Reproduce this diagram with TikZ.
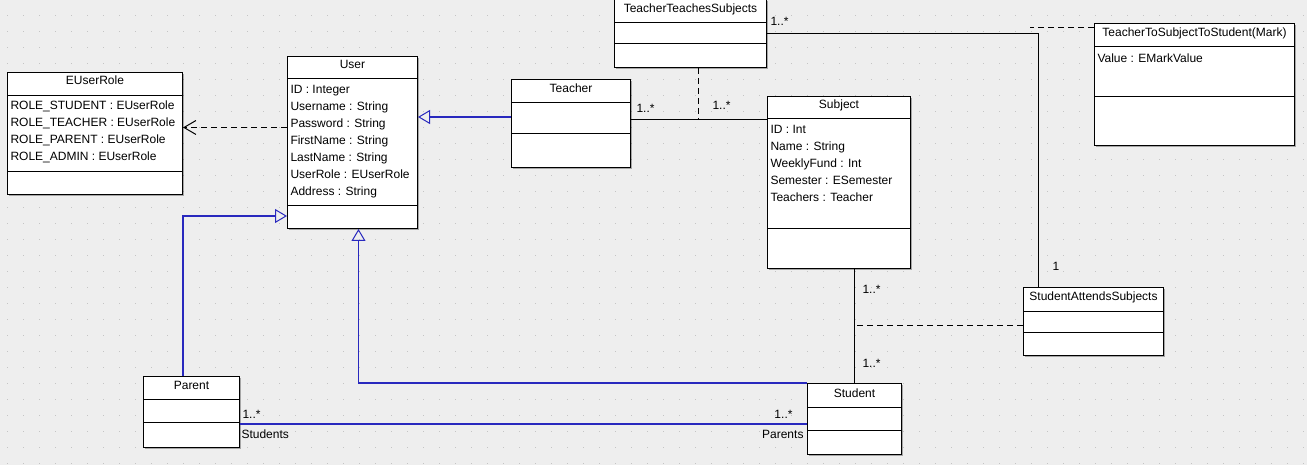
\documentclass[tikz,border=0pt]{standalone}
\usepackage{fontspec}
\setmainfont{Liberation Sans}
\usetikzlibrary{arrows.meta,shadows}

\definecolor{canvasgray}{RGB}{238,238,238}
\definecolor{dotgray}{RGB}{196,196,196}
\definecolor{genblue}{RGB}{40,40,190}

\begin{document}
\begin{tikzpicture}
    [x=1pt,y=-1pt,line width=1pt,
    font=\fontsize{12}{14}\selectfont,
    classbox/.style={draw=black,fill=white,anchor=north west,inner sep=0pt,
        drop shadow={shadow xshift=1.2pt,shadow yshift=-1.2pt,fill=black,opacity=0.3}},
    classname/.style={anchor=base,inner sep=0pt},
    member/.style={anchor=base west,inner sep=0pt},
    mult/.style={inner sep=0pt},
    assoc/.style={black},
    assocblue/.style={genblue,line width=1.1pt},
    inherit/.style={genblue,line width=1.1pt,-{Triangle[open,length=12pt,width=14pt,line width=1pt]}},
    depend/.style={black,dash pattern=on 6pt off 4pt,-{Straight Barb[length=12pt,width=14pt]}},
    assocclass/.style={black,dash pattern=on 6pt off 4pt}]

%background with dot grid
\fill[canvasgray] (0,0) rectangle (1307,465);
\foreach \i in {0,...,81}
    \foreach \j in {0,...,28}
        \fill[dotgray] (16*\i+7,16*\j+15) rectangle ++(1.3,1.3);
\useasboundingbox (0,0) rectangle (1307,465);

%EUserRole
\node[classbox,minimum width=175,minimum height=122] (euserrole) at (7,72) {};
\draw ([yshift=-24pt]euserrole.north west) -- ([yshift=-24pt]euserrole.north east);
\draw ([yshift=-100pt]euserrole.north west) -- ([yshift=-100pt]euserrole.north east);
\node[classname] (euserrolename) at ([yshift=-13pt]euserrole.north) {EUserRole};
\foreach \m [count=\k] in {ROLE\_STUDENT : EUserRole,ROLE\_TEACHER : EUserRole,
        ROLE\_PARENT : EUserRole,ROLE\_ADMIN : EUserRole}
    \node[member] (euserrole-\k) at (10,93+17*\k) {\m};

%User
\node[classbox,minimum width=130,minimum height=172] (user) at (287,56) {};
\draw ([yshift=-23pt]user.north west) -- ([yshift=-23pt]user.north east);
\draw ([yshift=-150pt]user.north west) -- ([yshift=-150pt]user.north east);
\node[classname] (username) at ([yshift=-13pt]user.north) {User};
\foreach \m [count=\k] in {ID : Integer,Username : String,Password : String,
        FirstName : String,LastName : String,UserRole : EUserRole,Address : String}
    \node[member] (user-\k) at (290,77+17*\k) {\m};

%Teacher
\node[classbox,minimum width=119,minimum height=88] (teacher) at (511,79) {};
\draw ([yshift=-24pt]teacher.north west) -- ([yshift=-24pt]teacher.north east);
\draw ([yshift=-55pt]teacher.north west) -- ([yshift=-55pt]teacher.north east);
\node[classname] (teachername) at ([yshift=-14pt]teacher.north) {Teacher};

%TeacherTeachesSubjects
\node[classbox,minimum width=152,minimum height=68] (tts) at (614,-1) {};
\draw ([yshift=-24pt]tts.north west) -- ([yshift=-24pt]tts.north east);
\draw ([yshift=-45pt]tts.north west) -- ([yshift=-45pt]tts.north east);
\node[classname] (ttsname) at ([yshift=-14pt]tts.north) {TeacherTeachesSubjects};

%Subject
\node[classbox,minimum width=143,minimum height=172] (subject) at (767,96) {};
\draw ([yshift=-23pt]subject.north west) -- ([yshift=-23pt]subject.north east);
\draw ([yshift=-133pt]subject.north west) -- ([yshift=-133pt]subject.north east);
\node[classname] (subjectname) at ([yshift=-13pt]subject.north) {Subject};
\foreach \m [count=\k] in {ID : Int,Name : String,WeeklyFund : Int,
        Semester : ESemester,Teachers : Teacher}
    \node[member] (subject-\k) at (770,117+17*\k) {\m};

%TeacherToSubjectToStudent(Mark)
\node[classbox,minimum width=200,minimum height=122] (mark) at (1094,23) {};
\draw ([yshift=-24pt]mark.north west) -- ([yshift=-24pt]mark.north east);
\draw ([yshift=-74pt]mark.north west) -- ([yshift=-74pt]mark.north east);
\node[classname] (markname) at ([yshift=-14pt]mark.north) {TeacherToSubjectToStudent(Mark)};
\node[member] (mark-1) at (1097,63) {Value : EMarkValue};

%StudentAttendsSubjects
\node[classbox,minimum width=140,minimum height=68] (sas) at (1023,287) {};
\draw ([yshift=-24pt]sas.north west) -- ([yshift=-24pt]sas.north east);
\draw ([yshift=-45pt]sas.north west) -- ([yshift=-45pt]sas.north east);
\node[classname] (sasname) at ([yshift=-14pt]sas.north) {StudentAttendsSubjects};

%Parent
\node[classbox,minimum width=96,minimum height=71] (parent) at (143,376) {};
\draw ([yshift=-23pt]parent.north west) -- ([yshift=-23pt]parent.north east);
\draw ([yshift=-46pt]parent.north west) -- ([yshift=-46pt]parent.north east);
\node[classname] (parentname) at ([yshift=-13pt]parent.north) {Parent};

%Student
\node[classbox,minimum width=94,minimum height=71] (student) at (807,383) {};
\draw ([yshift=-24pt]student.north west) -- ([yshift=-24pt]student.north east);
\draw ([yshift=-47pt]student.north west) -- ([yshift=-47pt]student.north east);
\node[classname] (studentname) at ([yshift=-14pt]student.north) {Student};

%User depends on EUserRole
\coordinate (userdep) at ([yshift=15pt]user.west);
\draw[depend] (userdep) -- (userdep -| euserrole.east);

%generalizations
\coordinate (teachergen) at ([yshift=6.5pt]teacher.west);
\draw[inherit] (teachergen) -- (teachergen -| user.east);
\coordinate (parentgen) at ([xshift=-8.5pt]parent.north);
\coordinate (usergenleft) at ([yshift=13pt]user.south west);
\draw[inherit] (parentgen) |- (usergenleft);
\coordinate (usergenbottom) at ([xshift=6pt]user.south);
\draw[inherit] (student.north west) -| (usergenbottom);

%Parent - Student
\coordinate (parentassoc) at ([yshift=-12pt]parent.east);
\draw[assocblue] (parentassoc) -- (parentassoc -| student.west);
\node[mult,anchor=base west] (parentmult) at (242,418) {1..*};
\node[mult,anchor=base west] (parentrole) at (241,438) {Students};
\node[mult,anchor=base east] (studentmult) at (793,418) {1..*};
\node[mult,anchor=base east] (studentrole) at (804,438) {Parents};

%Teacher - Subject
\coordinate (teacherassoc) at ([yshift=4pt]teacher.east);
\draw[assoc] (teacherassoc) -- (teacherassoc -| subject.west);
\coordinate (ttsjoin) at ([xshift=8pt]tts.south);
\draw[assocclass] (ttsjoin) -- (ttsjoin |- teacherassoc);
\node[mult,anchor=base west] (teachermult) at (636,113) {1..*};
\node[mult,anchor=base west] (subjectmult) at (712,110) {1..*};

%Subject - Student
\draw[assoc] (student.north) -- (student.north |- subject.south);
\coordinate (sasjoin) at ([yshift=-4pt]sas.west);
\draw[assocclass] (sasjoin) -- (sasjoin -| student.north);
\node[mult,anchor=base west] (subjectbottommult) at (862,294) {1..*};
\node[mult,anchor=base west] (studenttopmult) at (862,367) {1..*};

%TeacherTeachesSubjects - StudentAttendsSubjects
\coordinate (sasassoc) at ([xshift=15pt]sas.north west);
\draw[assoc] (tts.east) -| (sasassoc);
\coordinate (markjoin) at ([yshift=-5pt]mark.north west);
\coordinate (markfree) at (1030,28);
\draw[assocclass] (markjoin) -- (markfree);
\node[mult,anchor=base west] (ttsmult) at (770,26) {1..*};
\node[mult,anchor=base] (sasmult) at (1056,270) {1};

\end{tikzpicture}
\end{document}
